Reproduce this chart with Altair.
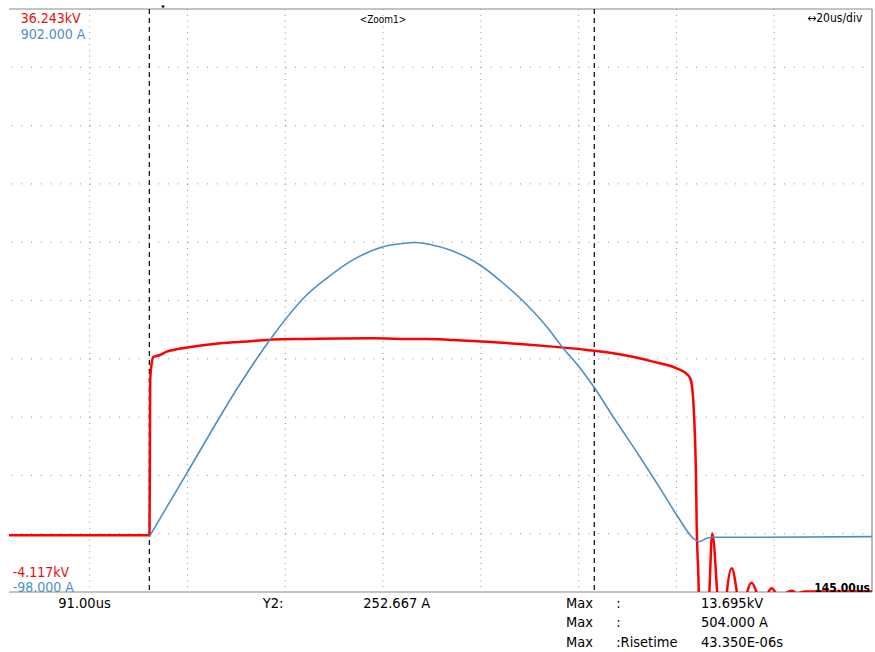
import altair as alt
import pandas as pd

# Horizontal time base: trigger at 0 us, 20 us/div, record ends at 145 us
T_LEFT, T_RIGHT = -31.5, 145.0
# Channel ranges over the 10 vertical divisions
KV_MIN, KV_MAX = -4.117, 36.243
A_MIN, A_MAX = -98.0, 902.0

W, H = 863, 583
FONT = "DejaVu Sans Condensed, Liberation Sans Narrow, sans-serif"
RED = "#ff0000"
BLUE = "#4a90c8"
RED_TXT = "#e01010"

# CH1: voltage (kV)
red_t = [-31.5, -2.76, -2.62, -2.31, -1.98, -0.61, 0.76, 2.11, 4.91, 11.66,
         17.79, 22.50, 29.39, 36.20, 42.94, 49.84, 56.65, 59.31, 66.20, 73.01,
         79.76, 86.71, 93.46, 100.21, 105.05, 107.10, 107.77, 108.12, 108.44, 108.79,
         108.99, 109.14, 109.47, 110.53, 111.72, 112.33, 113.36, 114.32, 115.28, 116.30,
         117.44, 118.40, 119.37, 120.39, 121.54, 122.50, 123.58, 124.48, 125.50, 126.38,
         127.40, 128.57, 129.65, 131.29, 145.0]
red_kv = [-0.19, -0.19, 10.56, 11.72, 12.15, 12.29, 12.52, 12.64, 12.81, 13.10,
          13.24, 13.36, 13.40, 13.44, 13.45, 13.40, 13.38, 13.33, 13.21, 13.05,
          12.87, 12.64, 12.34, 11.83, 11.37, 10.97, 10.70, 10.28, 9.17, 6.63,
          4.10, 0.64, -2.83, -15.0, -4.3, -0.05, -4.3, -10.0, -4.3, -2.48,
          -4.3, -7.0, -4.3, -3.47, -4.3, -5.5, -4.3, -3.86, -4.3, -4.8,
          -4.2, -4.03, -4.2, -4.08, -4.08]

# CH2: current (A)
blue_t = [-2.80, 4.85, 15.75, 22.29, 29.39, 33.48, 38.24, 45.05, 49.08,
          51.53, 54.60, 58.69, 62.78, 64.83, 69.53, 74.44, 78.53, 81.80, 85.28,
          88.20, 92.02, 97.55, 101.64, 105.32, 108.39, 109.61, 111.25, 112.47, 122.08,
          145.0]
blue_a = [-3.0, 105.6, 258.8, 339.5, 411.4, 440.1, 468.6, 494.3, 499.8,
          501.5, 498.1, 488.6, 473.2, 462.9, 432.0, 394.3, 356.5, 320.5, 286.2,
          252.7, 203.0, 133.6, 80.1, 30.6, -5.4, -11.7, -5.9, -4.2, -4.0,
          -3.1]

hgrid_a = [2, 102, 202, 302, 402, 502, 602, 702, 802]
vgrid_us = [-15, 5, 25, 45, 65, 85, 105, 125]
cursor_us = [-2.80, 88.20]
trigger_us = [0.0]

readout_names = ["Max", "Max", "Max"]
readout_fields = [":", ":", ":Risetime"]
readout_values = ["13.695kV", "504.000 A", "43.350E-06s"]

xs = alt.Scale(domain=[T_LEFT, T_RIGHT], nice=False, zero=False)
ys_kv = alt.Scale(domain=[KV_MIN, KV_MAX], nice=False, zero=False)
ys_a = alt.Scale(domain=[A_MIN, A_MAX], nice=False, zero=False)

red_df = pd.DataFrame({"t": red_t, "kv": red_kv})
blue_df = pd.DataFrame({"t": blue_t, "a": blue_a})

hgrid = alt.Chart(pd.DataFrame({"a": hgrid_a})).mark_rule(
    color="#8f8f8f", strokeWidth=1, strokeDash=[1, 8.78]
).encode(
    y=alt.Y("a:Q", scale=ys_a, axis=None),
    x=alt.X(datum=-31, scale=xs, axis=None),
    x2=alt.datum(T_RIGHT),
)

vgrid = alt.Chart(pd.DataFrame({"t": vgrid_us})).mark_rule(
    color="#8f8f8f", strokeWidth=1, strokeDash=[1, 4.83]
).encode(
    x=alt.X("t:Q", scale=xs, axis=None),
    y=alt.value(0), y2=alt.value(H),
)

frame_top = alt.Chart(pd.DataFrame({"k": [0]})).mark_rule(color="#8a8a8a", strokeWidth=1.2).encode(
    x=alt.value(0), x2=alt.value(W), y=alt.value(0))
frame_bottom = alt.Chart(pd.DataFrame({"k": [0]})).mark_rule(color="#8a8a8a", strokeWidth=1.2).encode(
    x=alt.value(0), x2=alt.value(W), y=alt.value(H))
frame_right = alt.Chart(pd.DataFrame({"k": [0]})).mark_rule(color="#8a8a8a", strokeWidth=1.2).encode(
    x=alt.value(W), y=alt.value(0), y2=alt.value(H))

cursors = alt.Chart(pd.DataFrame({"t": cursor_us})).mark_rule(
    color="black", strokeWidth=1.2, strokeDash=[5, 4]
).encode(
    x=alt.X("t:Q", scale=xs, axis=None),
    y=alt.value(0), y2=alt.value(H),
)

trigger = alt.Chart(pd.DataFrame({"t": trigger_us})).mark_point(
    shape="triangle-down", filled=True, color="black", size=14, opacity=1
).encode(
    x=alt.X("t:Q", scale=xs, axis=None),
    y=alt.value(-2),
)

red_line = alt.Chart(red_df).mark_line(
    color=RED, strokeWidth=2.5, clip=True, interpolate="monotone"
).encode(
    x=alt.X("t:Q", scale=xs, axis=None),
    y=alt.Y("kv:Q", scale=ys_kv, axis=None),
)

blue_line = alt.Chart(blue_df).mark_line(
    color=BLUE, strokeWidth=1.6, clip=True, interpolate="monotone"
).encode(
    x=alt.X("t:Q", scale=xs, axis=None),
    y=alt.Y("a:Q", scale=ys_a, axis=None),
)


def label(text, x, y, color="black", size=14.5, align="left", weight="normal"):
    return alt.Chart(pd.DataFrame({"s": [text]})).mark_text(
        align=align, baseline="alphabetic", color=color, fontSize=size,
        fontWeight=weight, font=FONT
    ).encode(x=alt.value(x), y=alt.value(y), text="s:N")


labels = [
    label(f"{KV_MAX:.3f}kV", 11.7, 13.7, RED_TXT, 14),
    label(f"{A_MAX:.3f} A", 11.7, 30.3, BLUE, 14),
    label(f"{KV_MIN:.3f}kV", 3.7, 567.7, RED_TXT, 14),
    label(f"{A_MIN:.3f} A", 3.7, 582.7, BLUE, 14),
    label("<Zoom1>", 374, 13.5, "black", 10, "center"),
    label("\u219420us/div", 853.3, 12.7, "black", 12, "right"),
    label(f"{T_RIGHT:.2f}us", 861, 582.5, "black", 12, "right", "bold"),
    label(f"{cursor_us[1] - cursor_us[0]:.2f}us", 49.3, 599.3),
    label("Y2:", 253.7, 599.3),
    label("252.667 A", 354.3, 599.3),
]
row_y = [599.3, 618.0, 638.0]
for name, field, value, yy in zip(readout_names, readout_fields, readout_values, row_y):
    labels.append(label(name, 557, yy))
    labels.append(label(field, 607.2, yy))
    labels.append(label(value, 692, yy))

chart = alt.layer(
    hgrid, vgrid, frame_top, frame_bottom, frame_right, cursors, trigger,
    red_line, blue_line, *labels
).resolve_scale(y="independent").properties(
    width=W, height=H,
    autosize=alt.AutoSizeParams(type="none"),
    padding={"left": 9, "top": 9, "right": 3, "bottom": 60},
).configure_view(stroke=None)

chart.save("out.html", embed_options={"renderer": "svg", "actions": False})
